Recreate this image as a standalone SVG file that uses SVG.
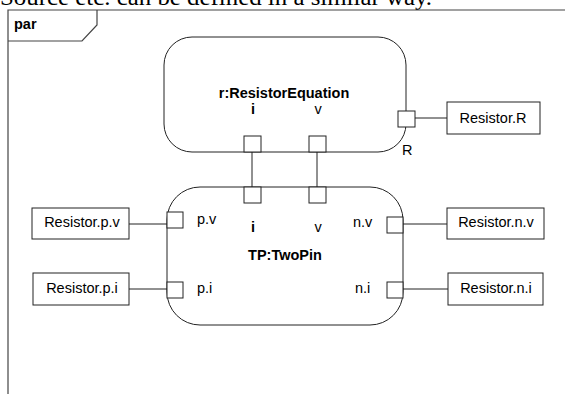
<svg xmlns="http://www.w3.org/2000/svg" width="565" height="394" viewBox="0 0 565 394">
<style>
text{font-family:"Liberation Sans",Arial,sans-serif;font-size:14.5px;fill:#000}
.b{font-weight:bold}
.m{text-anchor:middle}
.node{fill:#fff;stroke:#222;stroke-width:1}
.port{fill:#fff;stroke:#222;stroke-width:1}
.box{fill:#fff;stroke:#222;stroke-width:1}
.frame{fill:none;stroke:#444;stroke-width:1.2}
.conn line{stroke:#222;stroke-width:1}
</style>
<rect width="565" height="394" fill="#fff"/>
<text x="0" y="5" style="font-family:'Liberation Serif','Times New Roman',serif;font-size:24px" textLength="432" lengthAdjust="spacingAndGlyphs">Source etc. can be defined in a similar way.</text>
<g id="frame">
<polyline class="frame" points="8,394 8,10 565,10"/>
<polyline class="frame" points="8,41 82,41 97,25 97,10"/>
<text class="b" x="14" y="29">par</text>
</g>
<g class="conn" id="connectors">
<line x1="252" y1="152" x2="252" y2="187"/>
<line x1="317" y1="152" x2="317" y2="187"/>
<line x1="415" y1="118" x2="447" y2="118"/>
<line x1="129" y1="224" x2="167" y2="224"/>
<line x1="129" y1="289" x2="167" y2="289"/>
<line x1="403" y1="224" x2="447" y2="224"/>
<line x1="403" y1="289" x2="448" y2="289"/>
</g>
<g id="resistorEquation">
<rect class="node" x="164" y="37" width="242" height="115" rx="28" ry="28"/>
<text class="b m" x="284" y="98">r:ResistorEquation</text>
<text class="b m" x="253" y="114">i</text>
<text class="m" x="318" y="114">v</text>
<rect class="port" x="244" y="136" width="17" height="16"/>
<rect class="port" x="309" y="136" width="17" height="16"/>
<rect class="port" x="398" y="111" width="17" height="16"/>
<text x="402" y="155">R</text>
</g>
<g id="twoPin">
<rect class="node" x="167" y="187" width="236" height="138" rx="33" ry="33"/>
<text class="b m" x="285" y="260">TP:TwoPin</text>
<text class="b m" x="253" y="232">i</text>
<text class="m" x="318" y="232">v</text>
<text x="197" y="224">p.v</text>
<text x="197" y="293">p.i</text>
<text x="353" y="227">n.v</text>
<text x="355" y="293">n.i</text>
<rect class="port" x="244" y="187" width="17" height="16"/>
<rect class="port" x="309" y="187" width="17" height="16"/>
<rect class="port" x="167" y="212" width="16" height="16"/>
<rect class="port" x="167" y="282" width="16" height="16"/>
<rect class="port" x="387" y="217" width="16" height="16"/>
<rect class="port" x="387" y="282" width="16" height="16"/>
</g>
<g id="resistorR">
<rect class="box" x="447" y="102" width="93" height="32"/>
<text class="m" x="493" y="123">Resistor.R</text>
</g>
<g id="resistorPv">
<rect class="box" x="32" y="208" width="97" height="31"/>
<text class="m" x="82" y="227">Resistor.p.v</text>
</g>
<g id="resistorPi">
<rect class="box" x="33" y="273" width="96" height="32"/>
<text class="m" x="82" y="293">Resistor.p.i</text>
</g>
<g id="resistorNv">
<rect class="box" x="447" y="208" width="97" height="31"/>
<text class="m" x="496" y="227">Resistor.n.v</text>
</g>
<g id="resistorNi">
<rect class="box" x="448" y="273" width="95" height="32"/>
<text class="m" x="496" y="293">Resistor.n.i</text>
</g>
</svg>
